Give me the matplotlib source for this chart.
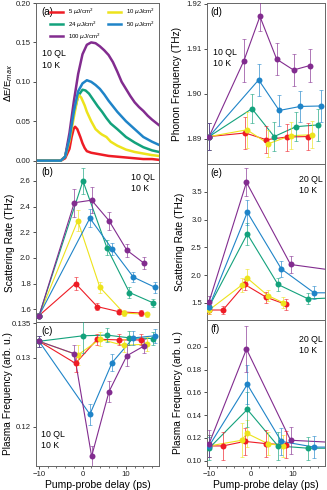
import numpy as np
import matplotlib
matplotlib.use("Agg")
import matplotlib.pyplot as plt

plt.rcParams['font.family'] = ['Liberation Sans', 'DejaVu Sans']

# colours for the five fluences
colors = {'5': '#ee1c25', '10': '#ede31c', '24': '#13a27c', '50': '#1f84c8', '100': '#822c8f'}
labels = {'5': r'5 $\mu$J/cm$^2$', '10': r'10 $\mu$J/cm$^2$', '24': r'24 $\mu$J/cm$^2$',
          '50': r'50 $\mu$J/cm$^2$', '100': r'100 $\mu$J/cm$^2$'}

# (a) transient traces dE/Emax vs delay
t_red = [-10.6, -5, -4, -3, -2.5, -2, -1.7, -1.2, -0.5, 0, 0.5, 1, 2, 3, 4, 6, 8, 10, 12, 14, 16, 17.6]
a_red = [0, 0, 0.003, 0.015, 0.03, 0.041, 0.043, 0.04, 0.03, 0.022, 0.016, 0.012, 0.01, 0.009, 0.008, 0.006, 0.005, 0.004, 0.003, 0.002, 0.002, 0.001]
t_yel = [-10.6, -5, -4, -3, -2, -1.2, -0.8, -0.3, 0.5, 1, 2, 3, 4, 4.5, 5.5, 6.5, 8, 10, 12, 14, 16, 17.6]
a_yel = [0, 0, 0.005, 0.025, 0.055, 0.078, 0.083, 0.08, 0.07, 0.062, 0.05, 0.04, 0.035, 0.033, 0.03, 0.024, 0.019, 0.014, 0.011, 0.009, 0.007, 0.006]
t_grn = [-10.6, -5, -4, -3, -2, -1, 0, 0.7, 1.5, 2.5, 3.5, 4.5, 5.5, 6.5, 8, 10, 12, 14, 16, 17.6]
a_grn = [0, 0, 0.005, 0.028, 0.06, 0.082, 0.09, 0.089, 0.085, 0.077, 0.069, 0.062, 0.054, 0.047, 0.04, 0.03, 0.023, 0.017, 0.013, 0.011]
t_blu = [-10.6, -5, -4, -3, -2, -1, 0, 1, 2, 3, 4, 5, 6, 7, 8, 10, 12, 14, 16, 17.6]
a_blu = [0, 0, 0.005, 0.028, 0.062, 0.088, 0.098, 0.102, 0.1, 0.096, 0.091, 0.084, 0.076, 0.069, 0.062, 0.05, 0.04, 0.03, 0.024, 0.02]
t_pur = [-10.6, -5, -4, -3, -2, -1, 0, 1, 2, 3, 4, 5, 6, 7, 8, 9, 10, 11, 12, 13, 14, 15, 16, 17.6]
a_pur = [0, 0, 0.005, 0.035, 0.075, 0.11, 0.135, 0.147, 0.15, 0.149, 0.145, 0.14, 0.134, 0.125, 0.113, 0.1, 0.091, 0.082, 0.074, 0.068, 0.063, 0.057, 0.052, 0.045]

# (b) scattering rate, 10 QL
b_x = {'5': [-10, -1.6, 3.4, 8.4, 13.4], '10': [-10, -1.1, 4.0, 9.5, 14.8],
       '24': [-10, 0.1, 5.6, 10.8, 16.2], '50': [-10, 1.7, 6.8, 11.7, 16.7],
       '100': [-10, -1.9, 2.1, 6.1, 10.2, 14.1]}
b_y = {'5': [1.55, 1.80, 1.62, 1.58, 1.57], '10': [1.55, 2.29, 1.77, 1.57, 1.56],
       '24': [1.55, 2.60, 2.08, 1.73, 1.65], '50': [1.55, 2.31, 2.07, 1.85, 1.77],
       '100': [1.55, 2.43, 2.45, 2.29, 2.06, 1.96]}
b_e = {'5': [0.02, 0.05, 0.03, 0.02, 0.02], '10': [0.02, 0.08, 0.04, 0.02, 0.02],
       '24': [0.02, 0.10, 0.06, 0.04, 0.03], '50': [0.02, 0.07, 0.05, 0.04, 0.04],
       '100': [0.02, 0.11, 0.10, 0.07, 0.05, 0.05]}

# (c) plasma frequency, 10 QL
c_x = b_x
c_y = {'5': [0.1324, 0.1292, 0.1327, 0.1326, 0.1326], '10': [0.1324, 0.1304, 0.1327, 0.1318, 0.1320],
       '24': [0.1324, 0.1332, 0.1333, 0.1329, 0.1328], '50': [0.1324, 0.1218, 0.1293, 0.1329, 0.1332],
       '100': [0.1324, 0.1306, 0.1157, 0.1251, 0.1303, 0.1317]}
c_e = {'5': [0.0008, 0.0012, 0.0008, 0.0008, 0.0008], '10': [0.0008, 0.0015, 0.001, 0.001, 0.001],
       '24': [0.0008, 0.0025, 0.001, 0.001, 0.001], '50': [0.0008, 0.0015, 0.0012, 0.001, 0.001],
       '100': [0.0008, 0.0012, 0.0015, 0.0015, 0.0015, 0.001]}

# (d) phonon frequency, 10 QL
d_x = {'5': [-10, -1.4, 3.6, 8.5, 13.5], '10': [-10, -1.0, 4.1, 9.4, 14.6],
       '24': [-10, 0.2, 5.5, 10.7, 16.0], '50': [-10, 1.8, 6.7, 11.7, 16.7],
       '100': [-10, -1.7, 2.1, 6.1, 10.1, 14.0]}
d_y = {'5': [1.8905, 1.8913, 1.8898, 1.8904, 1.8905], '10': [1.8905, 1.8920, 1.8889, 1.8907, 1.8909],
       '24': [1.8905, 1.8967, 1.8905, 1.8927, 1.8931], '50': [1.8905, 1.9031, 1.8963, 1.8972, 1.8973],
       '100': [1.8905, 1.9074, 1.9172, 1.9077, 1.9053, 1.9063]}
d_e = {'5': [0.003, 0.0035, 0.003, 0.003, 0.003], '10': [0.003, 0.004, 0.003, 0.003, 0.003],
       '24': [0.003, 0.0032, 0.0032, 0.0032, 0.0035], '50': [0.003, 0.0035, 0.0035, 0.0035, 0.0035],
       '100': [0.003, 0.0047, 0.0032, 0.0035, 0.0035, 0.0037]}

# (e) scattering rate, 20 QL
e_x = {'5': [-10, -6.7, -1.5, 3.6, 8.3], '10': [-10, -2.2, -1.0, 4.0, 7.7],
       '24': [-10, -0.9, 6.4, 13.6, 20], '50': [-10, -0.9, 7.2, 15.0, 20],
       '100': [-10, -1.1, 9.4, 20]}
e_y = {'5': [1.37, 1.37, 1.83, 1.60, 1.47], '10': [1.37, 1.82, 1.95, 1.63, 1.50],
       '24': [1.43, 2.74, 1.83, 1.57, 1.59], '50': [1.43, 3.13, 2.11, 1.68, 1.68],
       '100': [1.52, 3.67, 2.19, 2.08]}
e_e = {'5': [0.08, 0.08, 0.1, 0.1, 0.1], '10': [0.08, 0.12, 0.15, 0.1, 0.1],
       '24': [0.1, 0.2, 0.12, 0.1, 0], '50': [0.1, 0.22, 0.15, 0.12, 0],
       '100': [0.1, 0.25, 0.15, 0]}

# (f) plasma frequency, 20 QL
f_x = e_x
f_y = {'5': [0.113, 0.113, 0.117, 0.115, 0.114], '10': [0.113, 0.118, 0.124, 0.115, 0.113],
       '24': [0.111, 0.145, 0.113, 0.111, 0.111], '50': [0.113, 0.167, 0.117, 0.112, 0.112],
       '100': [0.115, 0.198, 0.118, 0.116]}
f_e = {'5': [0.01, 0.012, 0.012, 0.012, 0.012], '10': [0.01, 0.015, 0.012, 0.01, 0.01],
       '24': [0.01, 0.015, 0.012, 0.01, 0], '50': [0.01, 0.017, 0.012, 0.01, 0],
       '100': [0.012, 0.02, 0.012, 0]}

order = ['5', '10', '24', '50', '100']

fig = plt.figure(figsize=(3.27, 4.9), dpi=100)
L, LW = 36 / 327, 123 / 327
R, RW = 207 / 327, 118 / 327
ax_a = fig.add_axes([L, 1 - 163 / 490, LW, 160 / 490])
ax_b = fig.add_axes([L, 1 - 322 / 490, LW, 159 / 490])
ax_c = fig.add_axes([L, 1 - 466 / 490, LW, 144 / 490])
ax_d = fig.add_axes([R, 1 - 164 / 490, RW, 161 / 490])
ax_e = fig.add_axes([R, 1 - 320 / 490, RW, 156 / 490])
ax_f = fig.add_axes([R, 1 - 466 / 490, RW, 146 / 490])


def style(ax, xlim, ylim, yticks, fmt, ylabel, lx, xlabels=False, lsize=7.3):
    ax.set_xlim(*xlim)
    ax.set_ylim(*ylim)
    ax.set_xticks([-10, 0, 10])
    ax.set_xticks(np.arange(-10, 18, 2), minor=True)
    ax.set_yticks(yticks)
    ax.set_yticklabels([fmt % v for v in yticks])
    ax.tick_params(direction='out', length=2.5, width=0.6, labelsize=5.6, colors='#333333', pad=1.2)
    ax.tick_params(which='minor', direction='out', length=1.5, width=0.5, colors='#333333')
    ax.tick_params(labelcolor='#222222')
    for s in ax.spines.values():
        s.set_color('#666666')
        s.set_linewidth(0.7)
    if not xlabels:
        ax.set_xticklabels([])
    else:
        ax.set_xlabel('Pump-probe delay (ps)', fontsize=7.5, labelpad=1)
    ax.set_ylabel(ylabel, fontsize=lsize)
    ax.yaxis.set_label_coords(lx, 0.5)


def points(ax, xs, ys, es):
    for k in order:
        ax.plot(xs[k], ys[k], '-', color=colors[k], lw=0.8, zorder=2)
        ax.errorbar(xs[k], ys[k], yerr=es[k], fmt='none', ecolor=colors[k], elinewidth=0.7,
                    capsize=1.3, capthick=0.6, alpha=0.65, zorder=3)
        ax.plot(xs[k], ys[k], 'o', color=colors[k], ms=4.3, mew=0, zorder=4)


# (a)
ax_a.plot(t_red, a_red, color=colors['5'], lw=1.8, label=labels['5'])
ax_a.plot(t_grn, a_grn, color=colors['24'], lw=1.8, label=labels['24'])
ax_a.plot(t_pur, a_pur, color=colors['100'], lw=1.8, label=labels['100'])
ax_a.plot(t_yel, a_yel, color=colors['10'], lw=1.8, label=labels['10'])
ax_a.plot(t_blu, a_blu, color=colors['50'], lw=1.8, label=labels['50'])
style(ax_a, (-10.7, 17.6), (-0.003, 0.2), [0, 0.05, 0.10, 0.15, 0.20], '%.2f',
      r'$\Delta$E/E$_{max}$', -0.17, lsize=6.8)
ax_a.legend(ncol=2, fontsize=4.3, frameon=False, loc='upper right', handlelength=2.2,
            columnspacing=1.2, handletextpad=0.8, labelspacing=0.3, borderaxespad=0.3)
ax_a.text(0.04, 0.975, '(a)', transform=ax_a.transAxes, fontsize=7, va='top')
ax_a.text(0.05, 0.71, '10 QL\n10 K', transform=ax_a.transAxes, fontsize=6.3, va='top', linespacing=1.3)

# (b)
points(ax_b, b_x, b_y, b_e)
style(ax_b, (-10.7, 17.6), (1.50, 2.74), [1.6, 1.8, 2.0, 2.2, 2.4, 2.6], '%.1f',
      'Scattering Rate (THz)', -0.17)
ax_b.text(0.04, 0.975, '(b)', transform=ax_b.transAxes, fontsize=7, va='top')
ax_b.text(0.97, 0.94, '10 QL\n10 K', transform=ax_b.transAxes, fontsize=6.3, va='top',
          ha='right', multialignment='left', linespacing=1.3)

# (c)
points(ax_c, c_x, c_y, c_e)
style(ax_c, (-10.7, 17.6), (0.1143, 0.1352), [0.12, 0.13, 0.135], '%g',
      'Plasma Frequency (arb. u.)', -0.19, xlabels=True)
ax_c.text(0.04, 0.975, '(c)', transform=ax_c.transAxes, fontsize=7, va='top')
ax_c.text(0.04, 0.25, '10 QL\n10 K', transform=ax_c.transAxes, fontsize=6.3, va='top', linespacing=1.3)

# (d)
points(ax_d, d_x, d_y, d_e)
style(ax_d, (-10.5, 17.6), (1.8844, 1.9202), [1.89, 1.90, 1.91, 1.92], '%.2f',
      'Phonon Frequency (THz)', -0.21)
ax_d.text(0.03, 0.975, '(d)', transform=ax_d.transAxes, fontsize=7, va='top')
ax_d.text(0.05, 0.72, '10 QL\n10 K', transform=ax_d.transAxes, fontsize=6.3, va='top', linespacing=1.3)

# (e)
points(ax_e, e_x, e_y, e_e)
style(ax_e, (-10.5, 17.6), (1.19, 4.0), [1.5, 2.0, 2.5, 3.0, 3.5], '%.1f',
      'Scattering Rate (THz)', -0.19)
ax_e.text(0.03, 0.975, '(e)', transform=ax_e.transAxes, fontsize=7, va='top')
ax_e.text(0.98, 0.93, '20 QL\n10 K', transform=ax_e.transAxes, fontsize=6.3, va='top',
          ha='right', multialignment='left', linespacing=1.3)

# (f)
points(ax_f, f_x, f_y, f_e)
style(ax_f, (-10.5, 17.6), (0.0954, 0.2235), [0.10, 0.12, 0.14, 0.16, 0.18, 0.20], '%.2f',
      'Plasma Frequency (arb. u.)', -0.20, xlabels=True)
ax_f.text(0.03, 0.975, '(f)', transform=ax_f.transAxes, fontsize=7, va='top')
ax_f.text(0.98, 0.9, '20 QL\n10 K', transform=ax_f.transAxes, fontsize=6.3, va='top',
          ha='right', multialignment='left', linespacing=1.3)

fig.savefig('out.png', dpi=100)
